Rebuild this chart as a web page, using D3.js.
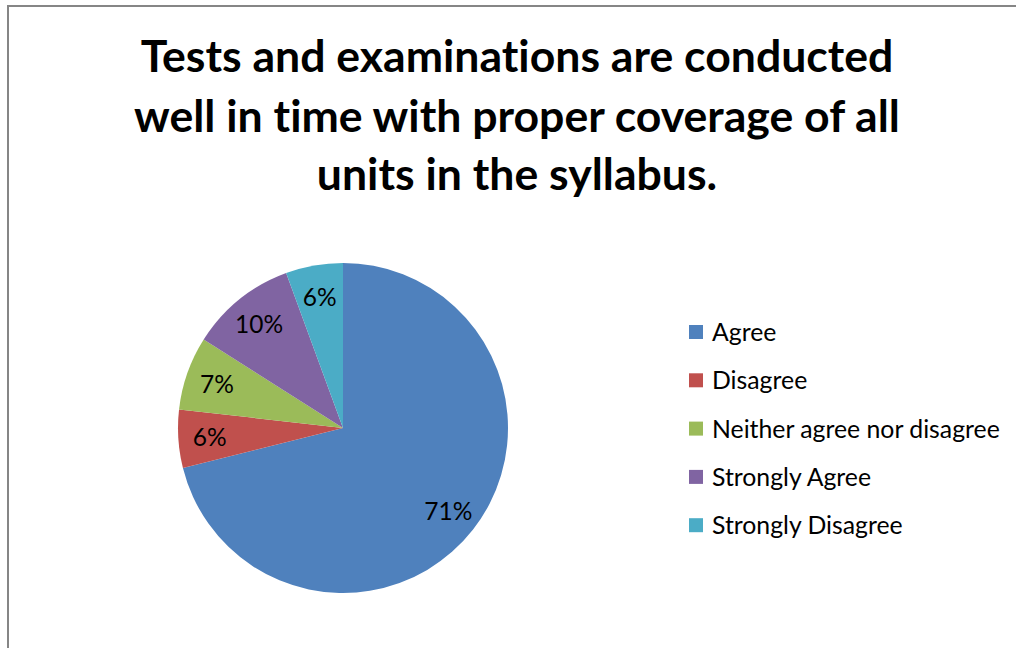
<!DOCTYPE html>
<html>
<head>
<meta charset="utf-8">
<script src="https://cdn.jsdelivr.net/npm/d3@7"></script>
<style>
  html, body { margin: 0; padding: 0; background: #fff; }
  svg { display: block; }
  text { font-variant-ligatures: none; font-feature-settings: "liga" 0, "clig" 0; }
</style>
</head>
<body>
<svg id="chart" width="1016" height="648"></svg>
<script>
// ---- data ----
const categories = ["Agree", "Disagree", "Neither agree nor disagree", "Strongly Agree", "Strongly Disagree"];
const values = [71.1, 5.7, 7.2, 10.4, 5.6];
const colors = ["#4F81BD", "#C0504D", "#9BBB59", "#8064A2", "#4BACC6"];
const titleLines = ["Tests and examinations are conducted", "well in time with proper coverage of all", "units in the syllabus."];

const W = 1016, H = 648;
const svg = d3.select("#chart");
const FONT = "Lato, 'Open Sans', 'DejaVu Sans', sans-serif";

// frame
svg.append("rect").attr("x", 8).attr("y", 6).attr("width", W + 20).attr("height", H + 20)
  .attr("fill", "#fff").attr("stroke", "#868686").attr("stroke-width", 2);

// title
const title = svg.append("g");
const titleBaselines = [72, 132, 190];
titleLines.forEach((t, i) => {
  title.append("text")
    .attr("x", 517).attr("y", titleBaselines[i])
    .attr("text-anchor", "middle")
    .attr("font-family", FONT).attr("font-weight", "bold")
    .attr("font-size", 40).attr("fill", "#000")
    .text(t);
});
{
  const first = title.select("text");
  const w = first.node().getComputedTextLength();
  const fs = 40 * 753 / w;
  title.selectAll("text").attr("font-size", fs.toFixed(2));
}

// pie
const cx = 343, cy = 428, r = 165;
const pie = d3.pie().sort(null).value(d => d)(values);
const arc = d3.arc().innerRadius(0).outerRadius(r);
const labelArc = d3.arc().innerRadius(r * 0.81).outerRadius(r * 0.81);
const total = d3.sum(values);

const g = svg.append("g").attr("transform", `translate(${cx},${cy})`);
g.selectAll("path.slice").data(pie).enter().append("path")
  .attr("class", "slice")
  .attr("d", arc)
  .attr("fill", (d, i) => colors[i]);

g.selectAll("text.lbl").data(pie).enter().append("text")
  .attr("class", "lbl")
  .attr("transform", d => `translate(${labelArc.centroid(d)})`)
  .attr("text-anchor", "middle")
  .attr("dy", "0.38em")
  .attr("font-family", FONT).attr("font-size", 24.5).attr("fill", "#000")
  .text(d => Math.round(d.value / total * 100) + "%");

// legend
const legend = svg.append("g").attr("transform", "translate(689,325)");
const rowH = 48.3;
const items = legend.selectAll("g").data(categories).enter().append("g")
  .attr("transform", (d, i) => `translate(0,${i * rowH})`);
items.append("rect").attr("x", 0).attr("y", 0).attr("width", 14).attr("height", 14)
  .attr("fill", (d, i) => colors[i]);
const ltexts = items.append("text").attr("x", 23).attr("y", 16)
  .attr("font-family", FONT).attr("font-size", 23).attr("fill", "#000")
  .text(d => d);
{
  const node = ltexts.filter((d, i) => i === 2).node();
  const w = node.getComputedTextLength();
  const fs = 23 * 288 / w;
  ltexts.attr("font-size", fs.toFixed(2));
}
</script>
</body>
</html>
